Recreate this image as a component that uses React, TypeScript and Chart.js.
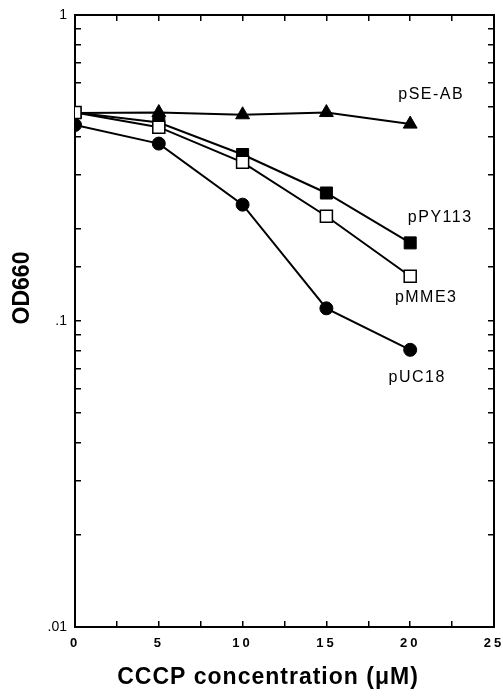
import React, { useEffect, useRef } from "react";
import { Chart, registerables } from "chart.js";

Chart.register(...registerables);

// ---- Data ----
const concentrations = [0, 5, 10, 15, 20];
const seriesNames = ["pMME3", "pPY113", "pSE-AB", "pUC18"];
const pMME3 = [0.48, 0.43, 0.33, 0.22, 0.14];
const pPY113 = [0.48, 0.445, 0.35, 0.262, 0.18];
const pSEAB = [0.478, 0.48, 0.472, 0.48, 0.44];
const pUC18 = [0.437, 0.38, 0.24, 0.11, 0.0805];
const xTickValues = [0, 5, 10, 15, 20, 25];
const xTickLabels = ["0", "5", "10", "15", "20", "25"];
const yDecades = [0.01, 0.1, 1];
const yDecadeLabels = [".01", ".1", "1"];
const xTitle = "CCCP concentration (\u03BCM)";
const yTitle = "OD660";

const FONT = '"Liberation Sans", Arial, Helvetica, sans-serif';

// label placement relative to each series' last point (pixels)
const labelOffsets: Record<string, [number, number]> = {
  "pSE-AB": [21, -30],
  pPY113: [30, -25],
  pMME3: [16, 21],
  pUC18: [7, 28],
};

const seriesLabelPlugin = {
  id: "seriesLabels",
  afterDatasetsDraw(chart: any) {
    const ctx = chart.ctx;
    ctx.save();
    ctx.font = `16px ${FONT}`;
    ctx.fillStyle = "#000";
    ctx.textAlign = "center";
    ctx.textBaseline = "middle";
    ctx.letterSpacing = "1.5px";
    chart.data.datasets.forEach((ds: any, i: number) => {
      const meta = chart.getDatasetMeta(i);
      const last = meta.data[meta.data.length - 1];
      const off = labelOffsets[ds.label] || [0, 0];
      ctx.fillText(ds.label, last.x + off[0], last.y + off[1]);
    });
    ctx.letterSpacing = "0px";
    ctx.restore();
  },
};

const axisTitlePlugin = {
  id: "axisTitles",
  afterDraw(chart: any) {
    const ctx = chart.ctx;
    ctx.save();
    ctx.font = `bold 23px ${FONT}`;
    ctx.fillStyle = "#000";
    ctx.textAlign = "center";
    ctx.textBaseline = "middle";
    ctx.letterSpacing = "1px";
    ctx.fillText(xTitle, 268, 678);
    ctx.letterSpacing = "0px";
    ctx.translate(23, 288);
    ctx.rotate(-Math.PI / 2);
    ctx.fillText(yTitle, 0, 0);
    ctx.restore();
  },
};

const tickSpacingPlugin = {
  id: "tickSpacing",
  afterLayout(chart: any) {
    const s: any = chart.scales.x;
    if (s && !s.__patched) {
      const origLabels = s.drawLabels.bind(s);
      s.drawLabels = (area: any) => {
        const c: any = s.ctx;
        c.letterSpacing = "3px";
        origLabels(area);
        c.letterSpacing = "0px";
      };
      s.__patched = true;
    }
  },
};

export default function App() {
  const canvasRef = useRef<HTMLCanvasElement | null>(null);

  useEffect(() => {
    if (!canvasRef.current) return;
    const mk = (v: number[]) => concentrations.map((x, i) => ({ x, y: v[i] }));
    const gridCommon = {
      drawOnChartArea: false,
      drawTicks: true,
      tickLength: -6,
      color: "#000",
      tickColor: "#000",
      lineWidth: 1.5,
    };
    const borderCommon = { display: true, color: "#000", width: 2 };
    const zeroPad = (s: any) => {
      s.paddingLeft = 0;
      s.paddingRight = 0;
      s.paddingTop = 0;
      s.paddingBottom = 0;
    };

    const chart = new Chart(canvasRef.current, {
      type: "line",
      data: {
        datasets: [
          {
            label: seriesNames[0],
            data: mk(pMME3),
            borderColor: "#000",
            borderWidth: 2,
            pointStyle: "rect",
            pointRadius: 8.5,
            pointBackgroundColor: "#fff",
            pointBorderColor: "#000",
            pointBorderWidth: 1.5,
            xAxisID: "x",
            yAxisID: "y",
          },
          {
            label: seriesNames[1],
            data: mk(pPY113),
            borderColor: "#000",
            borderWidth: 2,
            pointStyle: "rect",
            pointRadius: 8.5,
            pointBackgroundColor: "#000",
            pointBorderColor: "#000",
            pointBorderWidth: 1,
            xAxisID: "x",
            yAxisID: "y",
          },
          {
            label: seriesNames[2],
            data: mk(pSEAB),
            borderColor: "#000",
            borderWidth: 2,
            pointStyle: "triangle",
            pointRadius: 8,
            pointBackgroundColor: "#000",
            pointBorderColor: "#000",
            pointBorderWidth: 1,
            xAxisID: "x",
            yAxisID: "y",
          },
          {
            label: seriesNames[3],
            data: mk(pUC18),
            borderColor: "#000",
            borderWidth: 2,
            pointStyle: "circle",
            pointRadius: 6.5,
            pointBackgroundColor: "#000",
            pointBorderColor: "#000",
            pointBorderWidth: 1,
            xAxisID: "x",
            yAxisID: "y",
          },
        ],
      },
      options: {
        animation: false,
        responsive: false,
        devicePixelRatio: 1,
        layout: { autoPadding: false, padding: { left: 0, right: 9, top: 15, bottom: 0 } },
        plugins: {
          legend: { display: false },
          tooltip: { enabled: false },
          title: { display: false },
        },
        elements: { line: { tension: 0 } },
        scales: {
          x: {
            type: "linear",
            position: "bottom",
            min: 0,
            max: 25,
            border: borderCommon,
            grid: gridCommon,
            ticks: {
              stepSize: 2.5,
              autoSkip: false,
              maxRotation: 0,
              padding: 15,
              color: "#000",
              font: { family: FONT, size: 13, weight: "bold" },
              callback: (v: any) => {
                const i = xTickValues.indexOf(Number(v));
                return i >= 0 ? xTickLabels[i] : "";
              },
            },
            afterFit: (s: any) => {
              s.height = 69;
              zeroPad(s);
            },
          },
          x2: {
            type: "linear",
            position: "top",
            min: 0,
            max: 25,
            border: borderCommon,
            grid: gridCommon,
            ticks: { stepSize: 2.5, autoSkip: false, display: false },
            afterFit: (s: any) => {
              s.height = 0;
              zeroPad(s);
            },
          },
          y: {
            type: "logarithmic",
            position: "left",
            min: 0.01,
            max: 1,
            border: borderCommon,
            grid: gridCommon,
            ticks: {
              autoSkip: false,
              padding: 14,
              color: "#000",
              font: { family: FONT, size: 14 },
              callback: (v: any) => {
                const n = Number(v);
                const i = yDecades.findIndex((d) => Math.abs(d - n) / d < 1e-6);
                return i >= 0 ? yDecadeLabels[i] : "";
              },
            },
            afterFit: (s: any) => {
              s.width = 75;
              zeroPad(s);
            },
          },
          y2: {
            type: "logarithmic",
            position: "right",
            min: 0.01,
            max: 1,
            border: borderCommon,
            grid: gridCommon,
            ticks: { autoSkip: false, display: false },
            afterFit: (s: any) => {
              s.width = 0;
              zeroPad(s);
            },
          },
        },
      } as any,
      plugins: [tickSpacingPlugin, seriesLabelPlugin, axisTitlePlugin],
    });
    return () => chart.destroy();
  }, []);

  return (
    <div style={{ position: "absolute", left: 0, top: 0, width: 503, height: 696, background: "#fff" }}>
      <canvas ref={canvasRef} width={503} height={696} style={{ width: 503, height: 696 }} />
    </div>
  );
}
